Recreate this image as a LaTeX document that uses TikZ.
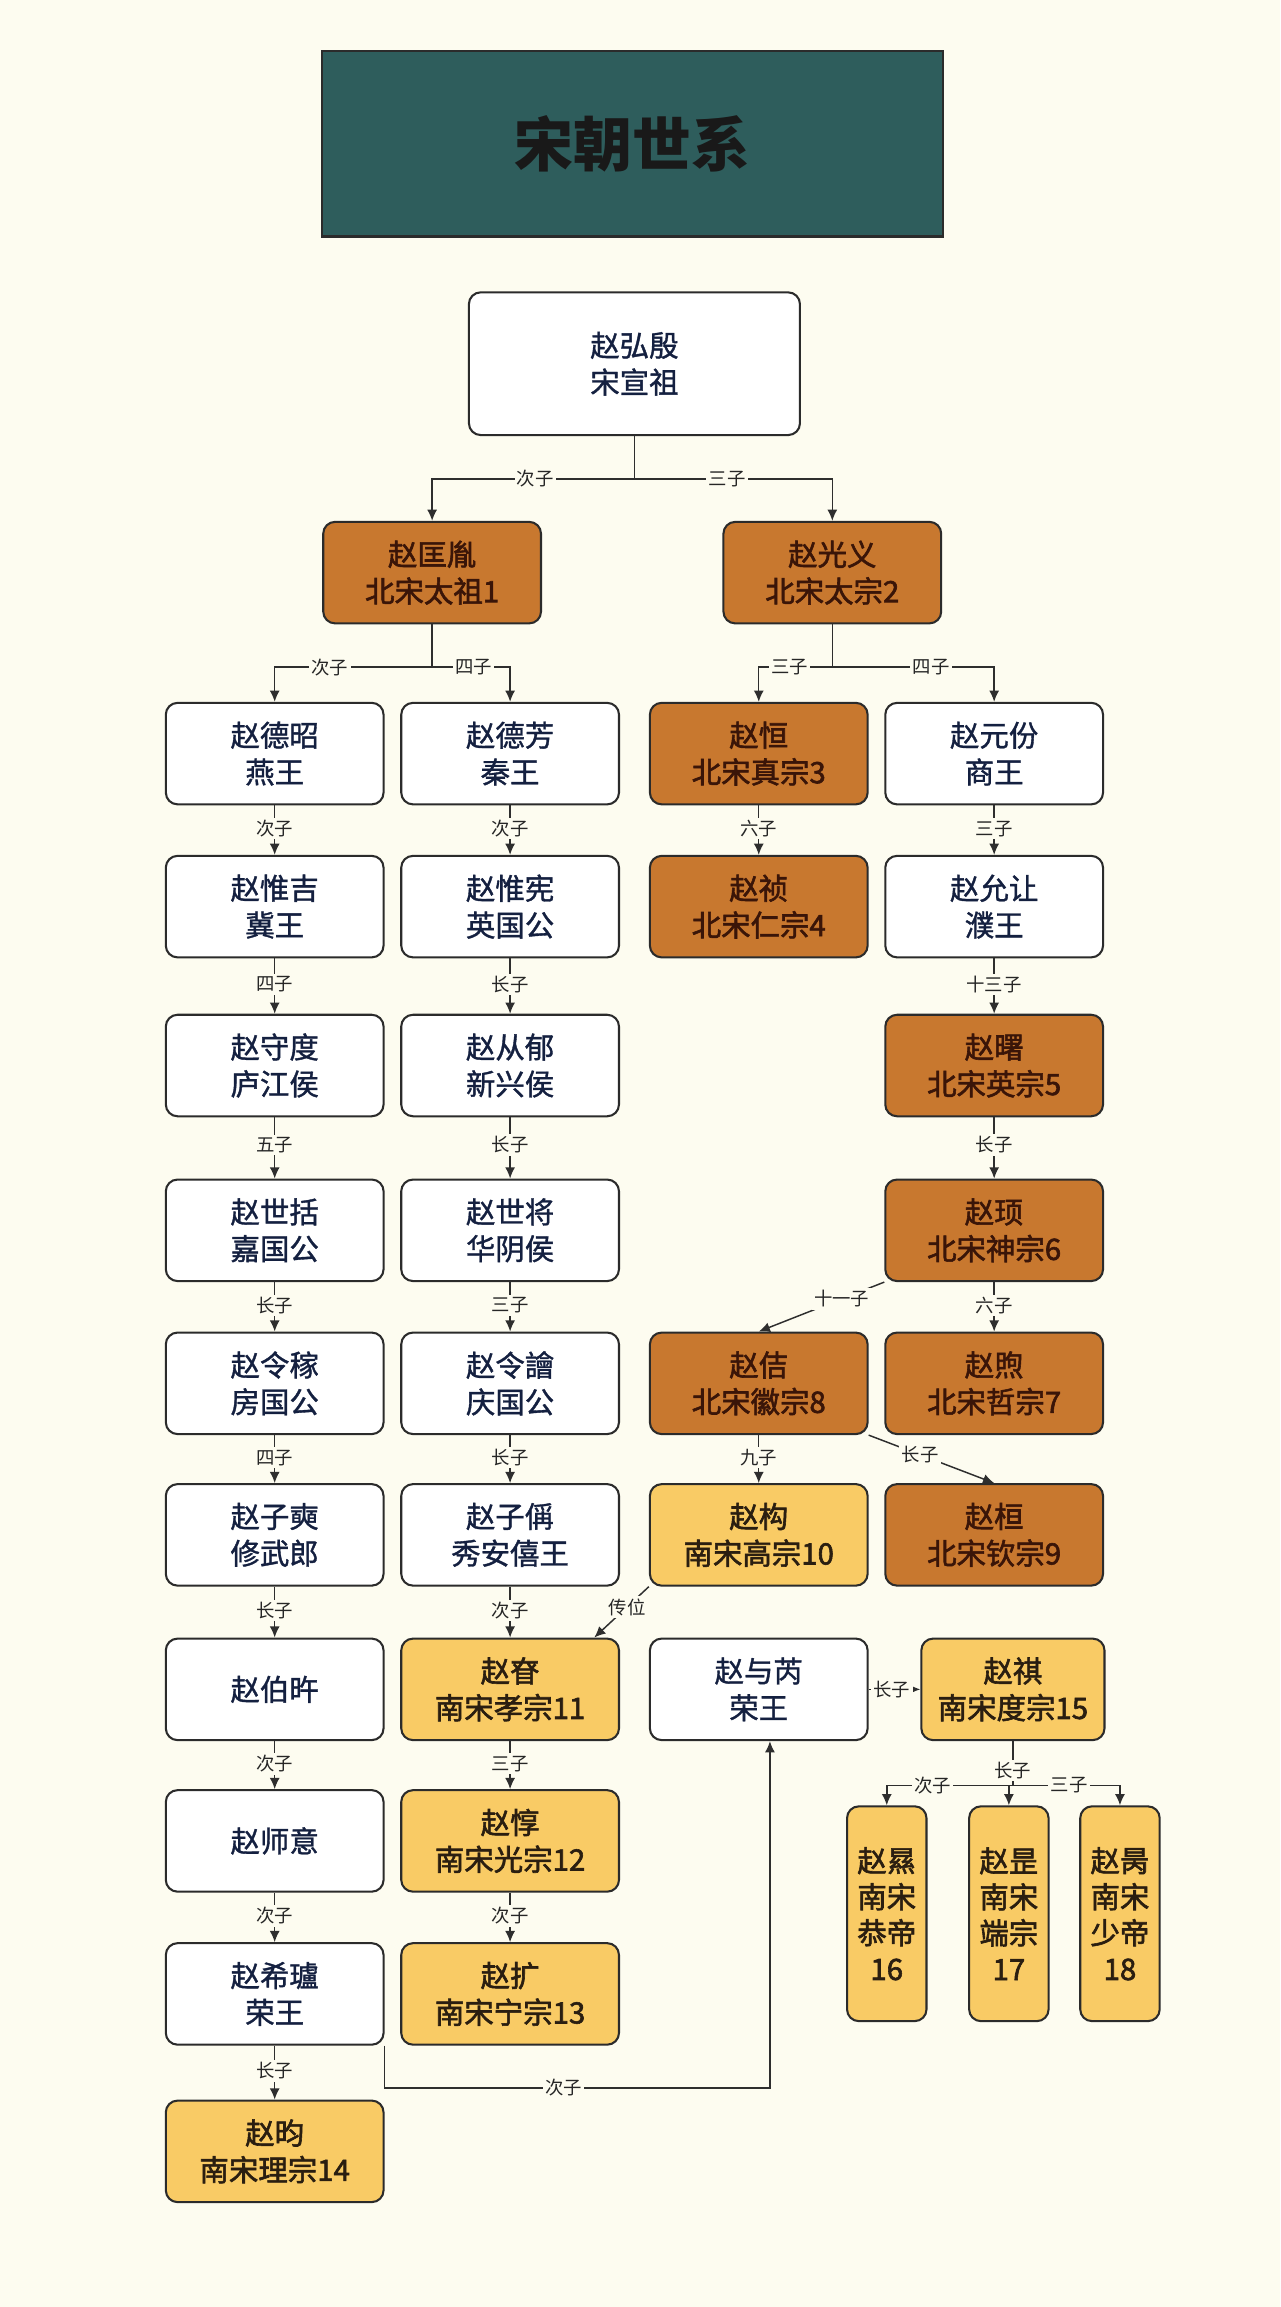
\documentclass[tikz,border=0pt]{standalone}
\usepackage{fontspec}
\newfontfamily\cjk{Noto Sans CJK SC}
\newfontfamily\cjkm{Noto Sans CJK SC}[FakeBold=1.2]
\newfontfamily\cjkh{Noto Sans CJK SC}[FakeBold=2]
\usetikzlibrary{arrows.meta,calc}
\definecolor{bg}{HTML}{FDFCF0}
\definecolor{titlefill}{HTML}{2E5D5C}
\definecolor{orangefill}{HTML}{C8782F}
\definecolor{yellowfill}{HTML}{F9CB65}
\definecolor{bordercol}{HTML}{2B2B2B}
\definecolor{navytext}{HTML}{142040}
\definecolor{browntext}{HTML}{3A1508}
\definecolor{darktext}{HTML}{2A1E10}
\definecolor{linecol}{HTML}{2E2E2E}
\begin{document}
\begin{tikzpicture}[x=0.5pt,y=-0.5pt,
  basebox/.style={draw=bordercol, line width=0.7pt, rounded corners=4pt, align=center,
    inner sep=0pt, anchor=north west, minimum width=74pt, minimum height=34.5pt,
    font=\cjkm\fontsize{10}{12.5}\selectfont},
  wbox/.style={basebox, fill=white, text=navytext},
  obox/.style={basebox, fill=orangefill, text=browntext, font=\cjkh\fontsize{10}{12.5}\selectfont},
  ybox/.style={basebox, fill=yellowfill, text=darktext, font=\cjkh\fontsize{10}{12.5}\selectfont},
  tallbox/.style={ybox, minimum width=27pt, minimum height=73pt, font=\cjkh\fontsize{10}{12.25}\selectfont},
  lbl/.style={font=\cjk\fontsize{6.25}{7}\selectfont, fill=bg, inner sep=0.8pt, text=black!85},
  con/.style={draw=linecol, line width=0.5pt},
  arr/.style={con, -{Latex[length=3.8pt,width=3.4pt]}}
]
\fill[bg] (0,0) rectangle (870,1568);
\useasboundingbox (0,0) rectangle (870,1568);

% title
\node[draw=bordercol, line width=0.8pt, fill=titlefill, anchor=north west, minimum width=211pt,
  minimum height=63pt, inner sep=0pt, font=\cjk\bfseries\fontsize{20}{24}\selectfont, text=black!90]
  (title) at (218,34) {宋朝世系};

% root
\node[wbox, minimum width=112.5pt, minimum height=48.5pt] (root) at (318,198) {赵弘殷\\宋宣祖};
\node[obox] (kuangyin) at (219,354) {赵匡胤\\北宋太祖1};
\node[obox] (guangyi) at (491,354) {赵光义\\北宋太宗2};

% row A
\node[wbox] (dezhao) at (112,477) {赵德昭\\燕王};
\node[wbox] (defang) at (272,477) {赵德芳\\秦王};
\node[obox] (heng) at (441,477) {赵恒\\北宋真宗3};
\node[wbox] (yuanfen) at (601,477) {赵元份\\商王};
% row B
\node[wbox] (weiji) at (112,581) {赵惟吉\\冀王};
\node[wbox] (weixian) at (272,581) {赵惟宪\\英国公};
\node[obox] (zhen) at (441,581) {赵祯\\北宋仁宗4};
\node[wbox] (yunrang) at (601,581) {赵允让\\濮王};
% row C
\node[wbox] (shoudu) at (112,689) {赵守度\\庐江侯};
\node[wbox] (congyu) at (272,689) {赵从郁\\新兴侯};
\node[obox] (shu) at (601,689) {赵曙\\北宋英宗5};
% row D
\node[wbox] (shikuo) at (112,801) {赵世括\\嘉国公};
\node[wbox] (shijiang) at (272,801) {赵世将\\华阴侯};
\node[obox] (xu) at (601,801) {赵顼\\北宋神宗6};
% row E
\node[wbox] (lingjia) at (112,905) {赵令稼\\房国公};
\node[wbox] (linghui) at (272,905) {赵令譮\\庆国公};
\node[obox] (ji) at (441,905) {赵佶\\北宋徽宗8};
\node[obox] (xuzhe) at (601,905) {赵煦\\北宋哲宗7};
% row F
\node[wbox] (zishi) at (112,1008) {赵子奭\\修武郎};
\node[wbox] (zicheng) at (272,1008) {赵子偁\\秀安僖王};
\node[ybox] (gou) at (441,1008) {赵构\\南宋高宗10};
\node[obox] (huan) at (601,1008) {赵桓\\北宋钦宗9};
% row G
\node[wbox] (bowu) at (112,1113) {赵伯旿};
\node[ybox] (shen) at (272,1113) {赵眘\\南宋孝宗11};
\node[wbox] (yurui) at (441,1113) {赵与芮\\荣王};
\node[ybox, minimum width=62.25pt] (qi) at (625.5,1113) {赵祺\\南宋度宗15};
% row H
\node[wbox] (shiyi) at (112,1216) {赵师意};
\node[ybox] (dun) at (272,1216) {赵惇\\南宋光宗12};
% row I
\node[wbox] (xilu) at (112,1320) {赵希瓐\\荣王};
\node[ybox] (kuo) at (272,1320) {赵扩\\南宋宁宗13};
% row J
\node[ybox] (yun) at (112,1427) {赵昀\\南宋理宗14};
% last emperors
\node[tallbox] (xian) at (575,1227) {赵㬎\\南宋\\恭帝\\16};
\node[tallbox] (shi) at (658,1227) {赵昰\\南宋\\端宗\\17};
\node[tallbox] (bing) at (733.5,1227) {赵昺\\南宋\\少帝\\18};

% buses
\draw[con] (root.south) -- ++(0,29) coordinate (b1);
\draw[arr] (b1) -| node[lbl,pos=0.245]{次子} (kuangyin.north);
\draw[arr] (b1) -| node[lbl,pos=0.234]{三子} (guangyi.north);

\draw[con] (kuangyin.south) -- ++(0,29) coordinate (b2);
\draw[arr] (b2) -| node[lbl,pos=0.325]{次子} (dezhao.north);
\draw[arr] (b2) -| node[lbl,pos=0.266]{四子} (defang.north);

\draw[con] (guangyi.south) -- ++(0,29) coordinate (b3);
\draw[arr] (b3) -| node[lbl,pos=0.29]{三子} (heng.north);
\draw[arr] (b3) -| node[lbl,pos=0.305]{四子} (yuanfen.north);

% column 1
\draw[arr] (dezhao.south) -- node[lbl,pos=0.47]{次子} (weiji.north);
\draw[arr] (weiji.south) -- node[lbl,pos=0.47]{四子} (shoudu.north);
\draw[arr] (shoudu.south) -- node[lbl,pos=0.45]{五子} (shikuo.north);
\draw[arr] (shikuo.south) -- node[lbl,pos=0.47]{长子} (lingjia.north);
\draw[arr] (lingjia.south) -- node[lbl,pos=0.47]{四子} (zishi.north);
\draw[arr] (zishi.south) -- node[lbl,pos=0.47]{长子} (bowu.north);
\draw[arr] (bowu.south) -- node[lbl,pos=0.47]{次子} (shiyi.north);
\draw[arr] (shiyi.south) -- node[lbl,pos=0.47]{次子} (xilu.north);
\draw[arr] (xilu.south) -- node[lbl,pos=0.47]{长子} (yun.north);

% column 2
\draw[arr] (defang.south) -- node[lbl,pos=0.47]{次子} (weixian.north);
\draw[arr] (weixian.south) -- node[lbl,pos=0.47]{长子} (congyu.north);
\draw[arr] (congyu.south) -- node[lbl,pos=0.45]{长子} (shijiang.north);
\draw[arr] (shijiang.south) -- node[lbl,pos=0.47]{三子} (linghui.north);
\draw[arr] (linghui.south) -- node[lbl,pos=0.47]{长子} (zicheng.north);
\draw[arr] (zicheng.south) -- node[lbl,pos=0.47]{次子} (shen.north);
\draw[arr] (shen.south) -- node[lbl,pos=0.47]{三子} (dun.north);
\draw[arr] (dun.south) -- node[lbl,pos=0.47]{次子} (kuo.north);

% column 3 and 4
\draw[arr] (heng.south) -- node[lbl,pos=0.47]{六子} (zhen.north);
\draw[arr] (yuanfen.south) -- node[lbl,pos=0.47]{三子} (yunrang.north);
\draw[arr] (yunrang.south) -- node[lbl,pos=0.47]{十三子} (shu.north);
\draw[arr] (shu.south) -- node[lbl,pos=0.45]{长子} (xu.north);
\draw[arr] (xu.south) -- node[lbl,pos=0.47]{六子} (xuzhe.north);
\draw[arr] (xu.south west) -- node[lbl,pos=0.34]{十一子} (ji.north);
\draw[arr] (ji.south) -- node[lbl,pos=0.47]{九子} (gou.north);
\draw[arr] (ji.south east) -- node[lbl,pos=0.41]{长子} (huan.north);
\draw[arr] (gou.south west) -- node[lbl,pos=0.4]{传位} ([xshift=-8.75pt]shen.north east);

% 赵希瓐 -> 赵与芮
\draw[arr] (xilu.south east) -- ++(0,28.6) -| node[lbl,pos=0.232]{次子} ([xshift=3.8pt]yurui.south);
% 赵与芮 -> 赵祺
\draw[arr] (yurui.east) -- node[lbl,pos=0.45]{长子} (qi.west);

% 赵祺 -> last three
\draw[con] (qi.south) -- node[lbl,pos=0.66]{长子} ++(0,30) coordinate (b4);
\draw[arr] (b4) -| node[lbl,pos=0.319]{次子} (xian.north);
\draw[arr] (b4) -| node[lbl,pos=0.262]{三子} (bing.north);
\draw[arr] (shi.north |- b4) -- (shi.north);
\end{tikzpicture}
\end{document}
